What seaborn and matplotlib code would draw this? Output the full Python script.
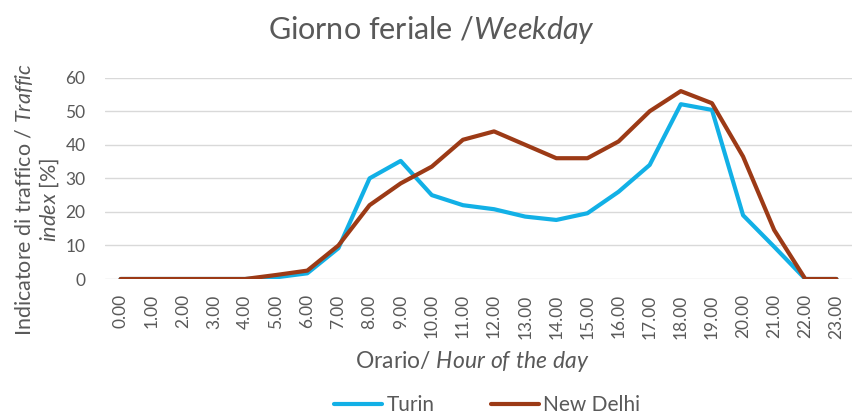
import pandas as pd
import matplotlib
matplotlib.use("Agg")
import matplotlib.pyplot as plt
import seaborn as sns

hours = list(range(24))
hour_labels = ["0.00", "1.00", "2.00", "3.00", "4.00", "5.00", "6.00", "7.00",
               "8.00", "9.00", "10.00", "11.00", "12.00", "13.00", "14.00", "15.00",
               "16.00", "17.00", "18.00", "19.00", "20.00", "21.00", "22.00", "23.00"]
turin = [0, 0, 0, 0, 0, 0.5, 1.7, 9.2, 30, 35.2, 25, 22, 20.8, 18.6, 17.6, 19.6,
         26, 34, 52.1, 50.4, 19, 9.6, 0, 0]
new_delhi = [0, 0, 0, 0, 0, 1.2, 2.5, 10, 22, 28.5, 33.5, 41.5, 44, 40, 36, 36,
             41, 50, 56, 52.4, 36.5, 14.6, 0, 0]
cities = ["Turin", "New Delhi"]
colors = ["#12B0E6", "#9C3A16"]

df = pd.DataFrame({
    "hour": hours * 2,
    "value": turin + new_delhi,
    "city": [cities[0]] * 24 + [cities[1]] * 24,
})

sns.set_style("white")
plt.rcParams["font.family"] = ["Lato", "DejaVu Sans"]
plt.rcParams["mathtext.fontset"] = "custom"
plt.rcParams["mathtext.rm"] = "Lato"
plt.rcParams["mathtext.it"] = "Lato:italic"

grey = "#595959"
fig = plt.figure(figsize=(8.53, 4.16), dpi=100)
ax = fig.add_axes([105 / 853, 1 - 279 / 416, 747 / 853, (279 - 77.7) / 416])

sns.lineplot(data=df, x="hour", y="value", hue="city", hue_order=cities,
             palette=colors, linewidth=3, ax=ax, legend=False, zorder=3)

ax.set_xlim(-0.5, 23.5)
ax.set_ylim(0, 60)
ax.set_yticks(range(0, 61, 10))
ax.set_xticks(hours)
ax.set_xticklabels(hour_labels, rotation=90)
ax.tick_params(axis="both", length=0, labelsize=12.5, colors=grey)
ax.tick_params(axis="x", pad=11)
ax.tick_params(axis="y", pad=14)
ax.grid(axis="y", color="#D9D9D9", linewidth=1)
ax.set_axisbelow(True)
for s in ax.spines.values():
    s.set_visible(False)
ax.set_xlabel("")
ax.set_ylabel("")

fig.text(432 / 853, 1 - 30 / 416, r"Giorno feriale /$\mathit{Weekday}$",
         ha="center", va="center", fontsize=22, color=grey)
fig.text(472 / 853, 1 - 362 / 416, r"Orario/ $\mathit{Hour\ of\ the\ day}$",
         ha="center", va="center", fontsize=16.5, color=grey)
fig.text(24 / 853, 1 - 199 / 416, r"Indicatore di traffico / $\mathit{Traffic}$",
         ha="center", va="center", rotation=90, fontsize=15.5, color=grey)
fig.text(49 / 853, 1 - 200 / 416, r"$\mathit{index}$ [%]",
         ha="center", va="center", rotation=90, fontsize=15.5, color=grey)

handles = [plt.Line2D([], [], color=c, linewidth=3) for c in colors]
fig.legend(handles, cities, loc="center", bbox_to_anchor=(487 / 853, 1 - 405 / 416),
           ncol=2, frameon=False, fontsize=15, handlelength=2.3,
           handletextpad=0.2, columnspacing=2.7, labelcolor=grey)

fig.savefig("out.png", dpi=100)
